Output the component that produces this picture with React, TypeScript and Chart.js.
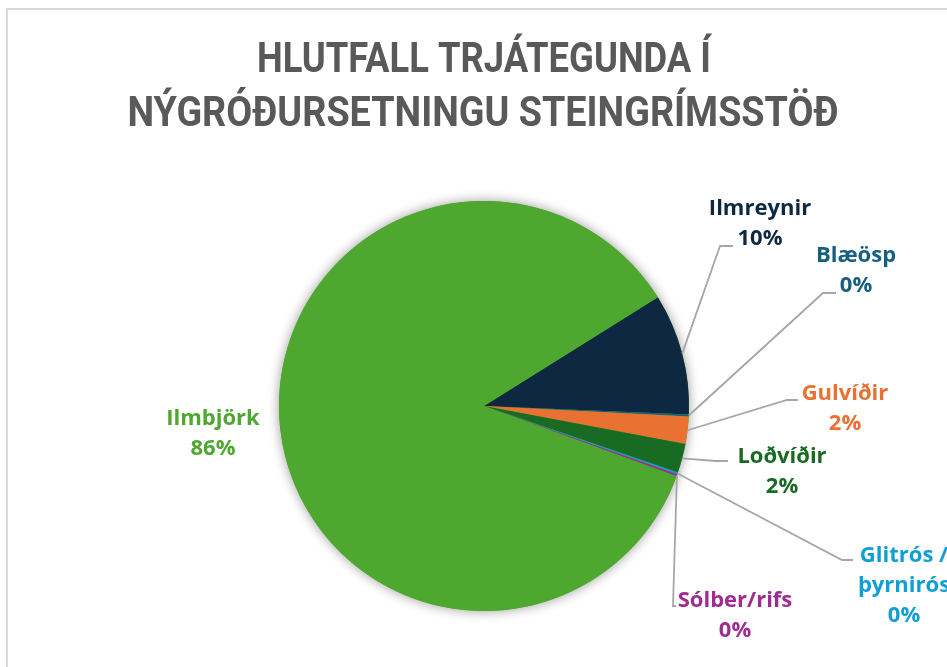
import { useEffect, useRef } from 'react';
import { Chart, registerables } from 'chart.js';

Chart.register(...registerables);

// ---------- data ----------
const categories = [
  'Ilmreynir',
  'Blæösp',
  'Gulvíðir',
  'Loðvíðir',
  'Glitrós / þyrnirós',
  'Sólber/rifs',
  'Ilmbjörk',
];
const shares = [9.55, 0.15, 2.15, 2.3, 0.15, 0.15, 85.55];
const sliceColors = ['#0E2841', '#156082', '#E97132', '#196B24', '#0F9ED5', '#A02B93', '#4EA72E'];
const titleLines = ['HLUTFALL TRJÁTEGUNDA Í', 'NÝGRÓÐURSETNINGU STEINGRÍMSSTÖÐ'];

// ---------- layout (offsets from the pie centre) ----------
type LabelPos = { text: [number, number]; elbow?: [number, number]; end?: [number, number] };
const labelLayout: LabelPos[] = [
  { text: [276, -191], elbow: [236, -160], end: [249, -160] },
  { text: [372, -144], elbow: [339, -113], end: [352, -113] },
  { text: [361, -6], elbow: [303, -6], end: [314, -6] },
  { text: [298, 57], elbow: [232, 55], end: [244, 55] },
  { text: [420, 156], elbow: [358, 154], end: [369, 154] },
  { text: [251, 201], elbow: [189, 200], end: [192, 200] },
  { text: [-271, 19] },
];
const LABEL_FONT = 'bold 22px "Open Sans", "Noto Sans", sans-serif';
const LINE_GAP = 30;

const shadowPlugin = {
  id: 'pieShadow',
  beforeDatasetsDraw(chart: any) {
    const arc = chart.getDatasetMeta(0).data[0];
    if (!arc) return;
    const { x, y, outerRadius } = arc.getProps(['x', 'y', 'outerRadius'], true);
    const ctx = chart.ctx;
    ctx.save();
    ctx.shadowColor = 'rgba(0,0,0,0.4)';
    ctx.shadowBlur = 12;
    ctx.fillStyle = '#4EA72E';
    ctx.beginPath();
    ctx.arc(x, y, outerRadius, 0, Math.PI * 2);
    ctx.fill();
    ctx.restore();
  },
};

const labelPlugin = {
  id: 'pieLabels',
  afterDraw(chart: any) {
    const ctx = chart.ctx;
    const meta = chart.getDatasetMeta(0);
    const data: number[] = chart.data.datasets[0].data;
    const total = data.reduce((a, b) => a + b, 0);

    // title
    ctx.save();
    ctx.fillStyle = '#595959';
    ctx.textAlign = 'center';
    ctx.textBaseline = 'alphabetic';
    ctx.font = 'bold 43px Roboto, "Liberation Sans", sans-serif';
    ctx.fillText(titleLines[0], 484, 72, 454);
    ctx.fillText(titleLines[1], 483, 126, 711);
    ctx.restore();

    meta.data.forEach((arc: any, i: number) => {
      const { x, y, startAngle, endAngle, outerRadius } = arc.getProps(
        ['x', 'y', 'startAngle', 'endAngle', 'outerRadius'],
        true
      );
      const lay = labelLayout[i];
      const mid = (startAngle + endAngle) / 2;
      const ax = x + Math.cos(mid) * outerRadius;
      const ay = y + Math.sin(mid) * outerRadius;

      if (lay.elbow && lay.end) {
        ctx.save();
        ctx.strokeStyle = '#A6A6A6';
        ctx.lineWidth = 1.8;
        ctx.beginPath();
        ctx.moveTo(ax, ay);
        ctx.lineTo(x + lay.elbow[0], y + lay.elbow[1]);
        ctx.lineTo(x + lay.end[0], y + lay.end[1]);
        ctx.stroke();
        ctx.restore();
      }

      const name: string = categories[i];
      const lines = name.includes(' / ')
        ? [name.split(' / ')[0] + ' /', name.split(' / ')[1]]
        : [name];
      lines.push(Math.round((data[i] / total) * 100) + '%');

      ctx.save();
      ctx.fillStyle = sliceColors[i];
      ctx.font = LABEL_FONT;
      ctx.textAlign = 'center';
      ctx.textBaseline = 'alphabetic';
      lines.forEach((t, k) => {
        ctx.fillText(t, x + lay.text[0], y + lay.text[1] + k * LINE_GAP);
      });
      ctx.restore();
    });
  },
};

export default function App() {
  const ref = useRef<HTMLCanvasElement>(null);

  useEffect(() => {
    document.body.style.background = '#ffffff';
    const chart = new Chart(ref.current as HTMLCanvasElement, {
      type: 'pie',
      data: {
        labels: categories,
        datasets: [
          {
            data: shares,
            backgroundColor: sliceColors,
            borderWidth: 0,
            hoverOffset: 0,
            offset: 0,
          },
        ],
      },
      options: {
        responsive: false,
        animation: false,
        devicePixelRatio: 1,
        rotation: 58,
        layout: { padding: { left: 279, right: 258, top: 201, bottom: 56 } },
        plugins: {
          legend: { display: false },
          tooltip: { enabled: false },
          title: { display: false },
        },
      },
      plugins: [shadowPlugin, labelPlugin],
    } as any);
    return () => chart.destroy();
  }, []);

  return (
    <>
      <div
        style={{
          position: 'fixed',
          left: 6,
          top: 8,
          width: 1200,
          height: 900,
          border: '2px solid #d9d9d9',
          boxSizing: 'border-box',
        }}
      />
      <canvas
        ref={ref}
        width={947}
        height={667}
        style={{ position: 'fixed', left: 0, top: 0, width: 947, height: 667 }}
      />
    </>
  );
}
